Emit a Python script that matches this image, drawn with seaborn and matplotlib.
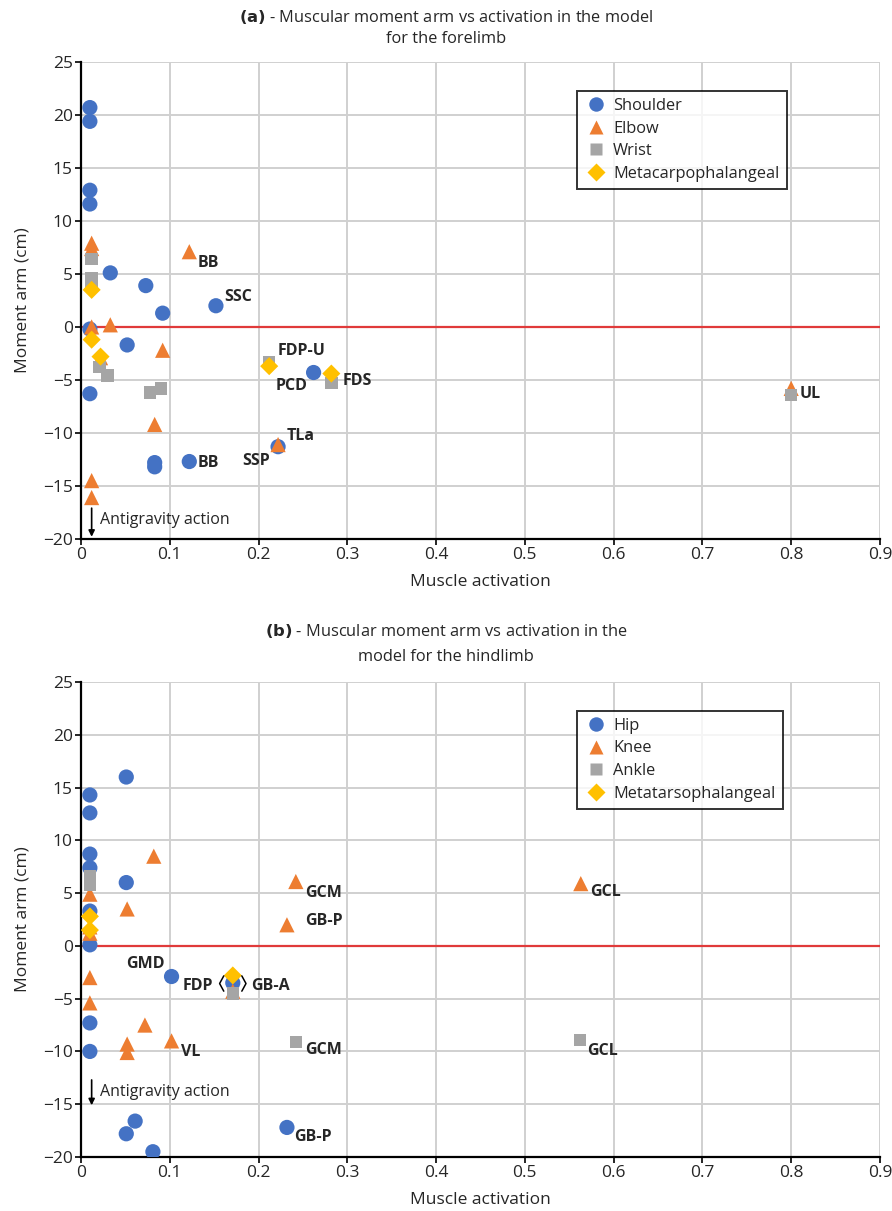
import numpy as np
import pandas as pd
import seaborn as sns
import matplotlib.pyplot as plt
from matplotlib.lines import Line2D

# ---- forelimb data (muscle activation, moment arm cm)
fl_shoulder_x = [0.01, 0.01, 0.01, 0.01, 0.033, 0.073, 0.092, 0.152, 0.01, 0.052, 0.01, 0.262, 0.083, 0.083, 0.122, 0.222]
fl_shoulder_y = [20.7, 19.4, 12.9, 11.6, 5.1, 3.9, 1.3, 2.0, -0.2, -1.7, -6.3, -4.3, -12.8, -13.2, -12.7, -11.3]
fl_elbow_x = [0.012, 0.012, 0.122, 0.012, 0.033, 0.022, 0.092, 0.083, 0.222, 0.012, 0.012, 0.80]
fl_elbow_y = [7.9, 7.4, 7.1, 0.0, 0.2, -2.9, -2.2, -9.2, -11.1, -14.5, -16.1, -5.8]
fl_wrist_x = [0.012, 0.012, 0.012, 0.021, 0.03, 0.078, 0.09, 0.212, 0.282, 0.80]
fl_wrist_y = [6.4, 4.6, 4.0, -3.8, -4.6, -6.2, -5.8, -3.3, -5.3, -6.4]
fl_mcp_x = [0.012, 0.012, 0.022, 0.212, 0.282]
fl_mcp_y = [3.5, -1.2, -2.8, -3.7, -4.4]

# ---- hindlimb data
hl_hip_x = [0.051, 0.01, 0.01, 0.01, 0.01, 0.051, 0.01, 0.01, 0.102, 0.171, 0.01, 0.01, 0.061, 0.051, 0.081, 0.232]
hl_hip_y = [16.0, 14.3, 12.6, 8.7, 7.4, 6.0, 3.3, 0.1, -2.9, -3.5, -7.3, -10.0, -16.6, -17.8, -19.5, -17.2]
hl_knee_x = [0.082, 0.01, 0.052, 0.01, 0.01, 0.242, 0.232, 0.563, 0.01, 0.01, 0.072, 0.102, 0.052, 0.052, 0.171]
hl_knee_y = [8.5, 4.9, 3.5, 1.8, 1.2, 6.1, 2.0, 5.9, -3.0, -5.4, -7.5, -9.0, -9.3, -10.1, -4.3]
hl_ankle_x = [0.01, 0.01, 0.171, 0.242, 0.562]
hl_ankle_y = [6.6, 5.8, -4.5, -9.1, -8.9]
hl_mtp_x = [0.01, 0.01, 0.171]
hl_mtp_y = [2.8, 1.5, -2.8]

fl_joints = ["Shoulder", "Elbow", "Wrist", "Metacarpophalangeal"]
hl_joints = ["Hip", "Knee", "Ankle", "Metatarsophalangeal"]

x_ticks = [0, 0.1, 0.2, 0.3, 0.4, 0.5, 0.6, 0.7, 0.8, 0.9]
x_tick_labels = ["0", "0.1", "0.2", "0.3", "0.4", "0.5", "0.6", "0.7", "0.8", "0.9"]
y_ticks = [-20, -15, -10, -5, 0, 5, 10, 15, 20, 25]

# labels: (text, x, y, dx_pt, dy_pt) anchored to a data point
fl_labels = [("BB", 0.122, 7.1, 6, -8), ("SSC", 0.152, 2.0, 6, 6), ("FDP-U", 0.212, -3.3, 6, 8),
             ("PCD", 0.262, -4.3, -27, -10), ("FDS", 0.282, -4.4, 8, -5), ("UL", 0.80, -5.8, 6, -4),
             ("TLa", 0.222, -11.1, 6, 6), ("SSP", 0.222, -11.3, -26, -10), ("BB", 0.122, -12.7, 6, -1)]
hl_labels = [("GCM", 0.242, 6.1, 7, -8), ("GB-P", 0.232, 2.0, 13, 3), ("GCL", 0.563, 5.9, 7, -6),
             ("GMD", 0.102, -2.9, -33, 9), ("FDP", 0.171, -3.5, -36, -2), ("GB-A", 0.171, -3.5, 13, -2),
             ("VL", 0.102, -9.0, 7, -8), ("GCM", 0.242, -9.1, 7, -6), ("GCL", 0.562, -8.9, 5, -8),
             ("GB-P", 0.232, -17.2, 5, -7)]

colors = ["#4472C4", "#ED7D31", "#A5A5A5", "#FFC000"]
markers = ["o", "^", "s", "D"]
sizes = [120, 120, 80, 85]

sns.set_theme(style="white")
plt.rcParams["font.family"] = ["Open Sans", "DejaVu Sans"]


def make_df(xs, ys, names):
    frames = []
    for x, y, n in zip(xs, ys, names):
        frames.append(pd.DataFrame({"activation": x, "moment": y, "joint": n}))
    return pd.concat(frames, ignore_index=True)


def draw_panel(ax, df, names, labels, arrow):
    ax.axhline(0, color="#E03A3A", lw=1.6, zorder=2)
    for i, n in enumerate(names):
        sub = df[df["joint"] == n]
        sns.scatterplot(data=sub, x="activation", y="moment", ax=ax, color=colors[i],
                        marker=markers[i], s=sizes[i], edgecolor="none", zorder=3 + i)
    ax.set_xlim(0, 0.9)
    ax.set_ylim(-20, 25)
    ax.set_xticks(x_ticks)
    ax.set_xticklabels(x_tick_labels)
    ax.set_yticks(y_ticks)
    ax.grid(True, color="#D0D0D0", lw=1.4)
    ax.set_axisbelow(True)
    for s in ["top", "right"]:
        ax.spines[s].set_visible(False)
    for s in ["left", "bottom"]:
        ax.spines[s].set_color("black")
        ax.spines[s].set_linewidth(1.6)
    ax.tick_params(axis="both", which="both", length=4, width=1.2, color="black",
                   direction="out", labelsize=12.5, pad=2, bottom=True, left=True)
    ax.set_xlabel("Muscle activation", fontsize=12.5, labelpad=8)
    ax.set_ylabel("Moment arm (cm)", fontsize=12.5, labelpad=9)

    for txt, x, y, dx, dy in labels:
        ax.annotate(txt, (x, y), xytext=(dx, dy), textcoords="offset points",
                    fontsize=11.5, fontweight="bold", va="center", ha="left", zorder=10)

    text_y, y_top, y_end = arrow
    ax.annotate("", xy=(0.012, y_end), xytext=(0.012, y_top), annotation_clip=False,
                arrowprops=dict(arrowstyle="-|>", color="black", lw=1.2, mutation_scale=9,
                                shrinkA=0, shrinkB=0))
    ax.text(0.021, text_y, "Antigravity action", fontsize=11.5, va="center", ha="left")

    handles = [Line2D([], [], ls="none", marker=markers[i], color=colors[i],
                      markersize=np.sqrt(sizes[i]) * 0.95, markeredgecolor="none", label=n)
               for i, n in enumerate(names)]
    leg = ax.legend(handles=handles, loc="upper left", bbox_to_anchor=(0.621, 0.94),
                    frameon=True, fancybox=False, fontsize=11.8, handletextpad=0.35,
                    borderpad=0.45, labelspacing=0.4, borderaxespad=0, handlelength=1.4)
    leg.get_frame().set_edgecolor("black")
    leg.get_frame().set_linewidth(1.4)


fig = plt.figure(figsize=(8.92, 12.11), dpi=100)
ax1 = fig.add_axes([0.0908, 0.555, 0.8957, 0.3938])
ax2 = fig.add_axes([0.0908, 0.0446, 0.8957, 0.3922])

df_fl = make_df([fl_shoulder_x, fl_elbow_x, fl_wrist_x, fl_mcp_x],
                [fl_shoulder_y, fl_elbow_y, fl_wrist_y, fl_mcp_y], fl_joints)
df_hl = make_df([hl_hip_x, hl_knee_x, hl_ankle_x, hl_mtp_x],
                [hl_hip_y, hl_knee_y, hl_ankle_y, hl_mtp_y], hl_joints)

draw_panel(ax1, df_fl, fl_joints, fl_labels, (-18.2, -17.1, -19.8))
draw_panel(ax2, df_hl, hl_joints, hl_labels, (-13.8, -12.7, -15.1))

fig.text(0.5, 1 - 8 / 1211, r"$\bf{(a)}$ - Muscular moment arm vs activation in the model" + "\nfor the forelimb",
         ha="center", va="top", fontsize=11.8, linespacing=1.45)
fig.text(0.5, 1 - 622 / 1211, r"$\bf{(b)}$ - Muscular moment arm vs activation in the" + "\nmodel for the hindlimb",
         ha="center", va="top", fontsize=11.8, linespacing=1.75)

# small brackets around the overlapping GB-A / FDP group
cx, cy = ax2.transData.transform((0.171, -3.5))
for side in (-1, 1):
    bx = [side * 6.5, side * 9.5, side * 6.5]
    by = [5, -0.5, -6]
    px = [cx + v / 0.72 for v in bx]
    py = [cy + v / 0.72 for v in by]
    ax2.plot(px, py, color="black", lw=1.1, transform=None, zorder=9)

fig.savefig("out.png", dpi=100)
